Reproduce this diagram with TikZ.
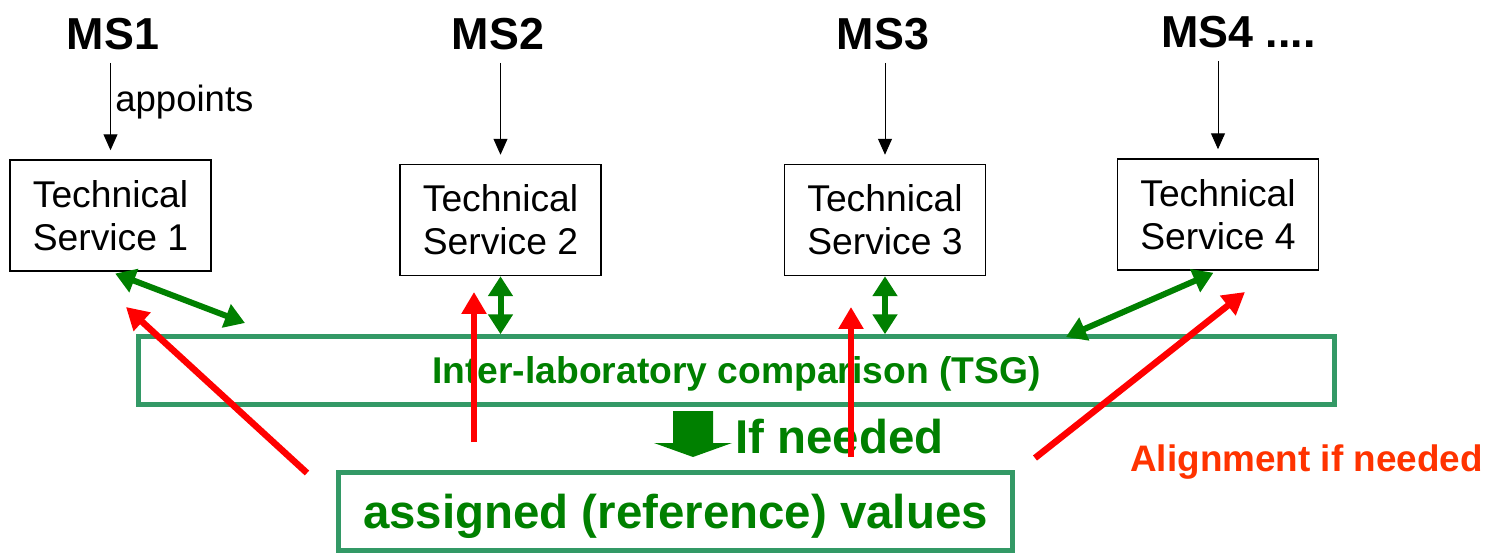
\documentclass[tikz,border=0pt]{standalone}
\usepackage{fontspec}
\setmainfont{Liberation Sans}
\usepackage{tikz}
\usetikzlibrary{arrows.meta, positioning, calc}

\definecolor{labgreen}{HTML}{008000}
\definecolor{framegreen}{HTML}{339966}
\definecolor{alignred}{HTML}{FF3300}

\begin{document}
\begin{tikzpicture}[
    x=0.02cm, y=-0.02cm,
    msname/.style  = {font=\fontsize{25.5}{30}\selectfont\bfseries, inner sep=0pt},
    tsbox/.style   = {rectangle, draw, line width=0.03cm, inner sep=0pt,
                      minimum width=4.02cm, minimum height=2.22cm,
                      align=center, font=\fontsize{21.2}{24.4}\selectfont},
    panel/.style   = {rectangle, draw=framegreen, line width=0.09cm, inner sep=0pt,
                      text=labgreen, text depth=0pt},
    lbl/.style     = {font=\fontsize{20.8}{24}\selectfont, inner sep=0pt},
    note/.style    = {font=\fontsize{27}{32}\selectfont\bfseries, text=labgreen, inner sep=0pt},
    appoint/.style = {-{Triangle[length=0.32cm, width=0.28cm]}, line width=0.02cm,
                      shorten <=0.24cm, shorten >=0.18cm},
    duo/.style     = {{Triangle[length=0.4cm, width=0.48cm]}-{Triangle[length=0.4cm, width=0.48cm]},
                      draw=labgreen, line width=0.12cm},
    fix/.style     = {-{Triangle[length=0.44cm, width=0.48cm]}, draw=red, line width=0.13cm}
]
\useasboundingbox (0,0) rectangle (1489,554);

% ========= member states =========
\node[msname, anchor=base]      (ms1) at (113,50)   {MS1};
\node[msname, anchor=base]      (ms2) at (498,50)   {MS2};
\node[msname, anchor=base]      (ms3) at (883,50)   {MS3};
\node[msname, anchor=base west] (ms4) at (1161,48)  {MS4 ....};

% ========= technical services =========
\node[tsbox] (ts1) at (110.5,215.5) {Technical\\Service 1};
\node[tsbox] (ts2) at (500.5,220)   {Technical\\Service 2};
\node[tsbox] (ts3) at (885,220)     {Technical\\Service 3};
\node[tsbox] (ts4) at (1218,214.5)  {Technical\\Service 4};

\draw[appoint] (ms1.south -| ts1.north) -- (ts1.north);
\draw[appoint] (ms2.south -| ts2.north) -- (ts2.north);
\draw[appoint] (ms3.south -| ts3.north) -- (ts3.north);
\draw[appoint] (ms4.south -| ts4.north) -- (ts4.north);
\node[lbl, anchor=base west] (appt) at (115,112) {appoints};

% ========= comparison and reference values =========
\node[panel, minimum width=23.92cm, minimum height=1.36cm,
      font=\fontsize{21.2}{25}\selectfont\bfseries] (tsg) at (736.5,370.5)
    {Inter-laboratory comparison (TSG)};
\node[panel, minimum width=13.48cm, minimum height=1.56cm,
      font=\fontsize{27}{32}\selectfont\bfseries] (ref) at (675.5,511.5)
    {assigned (reference) values};

\fill[labgreen] (673,411) -- (713,411) -- (713,443) -- (732,443) -- (693,457)
    -- (654,443) -- (673,443) -- cycle;
\node[note, anchor=base west] (ifneed) at (735,453) {If needed};
\node[font=\fontsize{21}{25}\selectfont\bfseries, text=alignred, inner sep=0pt,
      anchor=base west] (alignlbl) at (1130,471) {Alignment if needed};

% ========= green exchange arrows =========
\coordinate (g1) at (245,323);
\coordinate (g4) at (1066,337);
\draw[duo, shorten <=0.1cm] (ts1.south) -- (g1);
\draw[duo] (ts2.south) -- (ts2.south |- tsg.north);
\draw[duo] (ts3.south) -- (ts3.south |- tsg.north);
\draw[duo, shorten <=0.1cm] (ts4.south) -- (g4);

% ========= red alignment arrows =========
\coordinate (fix1s) at (307,473);  \coordinate (fix1e) at (126,307);
\coordinate (fix2s) at (474,442);  \coordinate (fix2e) at (474,292);
\coordinate (fix3s) at (851,457);  \coordinate (fix3e) at (851,307);
\coordinate (fix4s) at (1035,458); \coordinate (fix4e) at (1245,292);
\draw[fix] (fix1s) -- (fix1e);
\draw[fix] (fix2s) -- (fix2e);
\draw[fix] (fix3s) -- (fix3e);
\draw[fix] (fix4s) -- (fix4e);

\end{tikzpicture}
\end{document}
